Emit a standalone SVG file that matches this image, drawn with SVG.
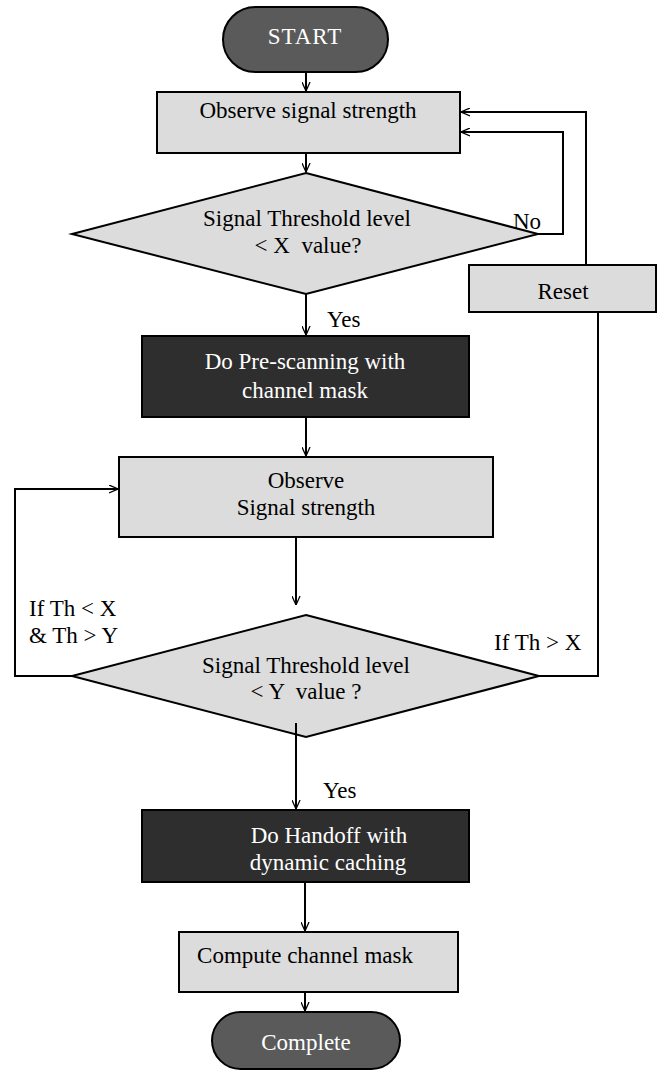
<svg xmlns="http://www.w3.org/2000/svg" width="662" height="1072" viewBox="0 0 662 1072">
  <defs>
    <marker id="arrow" viewBox="0 0 10 10" refX="10" refY="5" markerWidth="9" markerHeight="9" markerUnits="userSpaceOnUse" orient="auto">
      <path d="M0,0.5 L10,5 L0,9.5" fill="none" stroke="#000" stroke-width="1.4"/>
    </marker>
    <style>
      .light { fill: #dcdcdc; stroke: #000; stroke-width: 2; }
      .dark { fill: #2e2e2e; stroke: #000; stroke-width: 2; }
      .term { fill: #5a5a5a; stroke: #000; stroke-width: 2; }
      .t { font-family: "Liberation Serif", "Times New Roman", serif; font-size: 23px; fill: #000; text-anchor: middle; }
      .tw { font-family: "Liberation Serif", "Times New Roman", serif; font-size: 23px; fill: #fff; text-anchor: middle; }
      .lbl { font-family: "Liberation Serif", "Times New Roman", serif; font-size: 23px; fill: #000; }
      .conn { fill: none; stroke: #000; stroke-width: 2; }
    </style>
  </defs>
  <rect width="662" height="1072" fill="#fff"/>

  <!-- label sitting partly behind the first decision shape -->
  <g id="label-no">
    <text class="lbl" x="513" y="229">No</text>
  </g>

  <g id="start">
    <rect class="term" x="223" y="7" width="165" height="65" rx="32.5"/>
    <text class="tw" x="305" y="44" font-size="21" letter-spacing="1">START</text>
  </g>

  <g id="observe-1">
    <rect class="light" x="157" y="92" width="303" height="61"/>
    <text class="t" x="308" y="118">Observe signal strength</text>
  </g>

  <g id="decision-x">
    <polygon class="light" points="306,173 538,234 306,294 72,234"/>
    <text class="t" x="307" y="226">Signal Threshold level</text>
    <text class="t" x="308" y="253" xml:space="preserve">&lt; X  value?</text>
  </g>

  <g id="reset">
    <rect class="light" x="469" y="265" width="187" height="47"/>
    <text class="t" x="563" y="299" font-size="25">Reset</text>
  </g>

  <g id="prescan">
    <rect class="dark" x="142" y="336" width="327" height="81"/>
    <text class="tw" x="305" y="369" font-size="26">Do Pre-scanning with</text>
    <text class="tw" x="305" y="398" font-size="26">channel mask</text>
  </g>

  <g id="observe-2">
    <rect class="light" x="119" y="457" width="374" height="80"/>
    <text class="t" x="306" y="488">Observe</text>
    <text class="t" x="306" y="515">Signal strength</text>
  </g>

  <g id="decision-y">
    <polygon class="light" points="306,615 539,676 306,737 72,676"/>
    <text class="t" x="306" y="673">Signal Threshold level</text>
    <text class="t" x="306" y="699" xml:space="preserve">&lt; Y  value ?</text>
  </g>

  <g id="handoff">
    <rect class="dark" x="142" y="810" width="327" height="72"/>
    <text class="tw" x="329" y="843">Do Handoff with</text>
    <text class="tw" x="328" y="870">dynamic caching</text>
  </g>

  <g id="compute">
    <rect class="light" x="179" y="932" width="279" height="60"/>
    <text class="t" x="305" y="963">Compute channel mask</text>
  </g>

  <g id="complete">
    <rect class="term" x="212" y="1012" width="188" height="57" rx="28.5"/>
    <text class="tw" x="306" y="1050">Complete</text>
  </g>

  <g id="connectors">
    <line class="conn" x1="306" y1="72" x2="306" y2="91" marker-end="url(#arrow)"/>
    <line class="conn" x1="306" y1="153" x2="306" y2="172" marker-end="url(#arrow)"/>
    <polyline class="conn" points="538,234 563,234 563,132 461,132" marker-end="url(#arrow)"/>
    <polyline class="conn" points="586,265 586,112 461,112" marker-end="url(#arrow)"/>
    <line class="conn" x1="306" y1="294" x2="306" y2="335" marker-end="url(#arrow)"/>
    <line class="conn" x1="306" y1="417" x2="306" y2="456" marker-end="url(#arrow)"/>
    <line class="conn" x1="296" y1="537" x2="296" y2="605" marker-end="url(#arrow)"/>
    <polyline class="conn" points="72,676 15,676 15,489 118,489" marker-end="url(#arrow)"/>
    <polyline class="conn" points="539,676 598,676 598,312"/>
    <line class="conn" x1="296" y1="723" x2="296" y2="809" marker-end="url(#arrow)"/>
    <line class="conn" x1="305" y1="882" x2="305" y2="931" marker-end="url(#arrow)"/>
    <line class="conn" x1="305" y1="992" x2="305" y2="1011" marker-end="url(#arrow)"/>
  </g>

  <g id="labels">
    <text class="lbl" x="327" y="327">Yes</text>
    <text class="lbl" x="29" y="616">If Th &lt; X</text>
    <text class="lbl" x="29" y="643">&amp; Th &gt; Y</text>
    <text class="lbl" x="494" y="650">If Th &gt; X</text>
    <text class="lbl" x="323" y="798">Yes</text>
  </g>
</svg>
